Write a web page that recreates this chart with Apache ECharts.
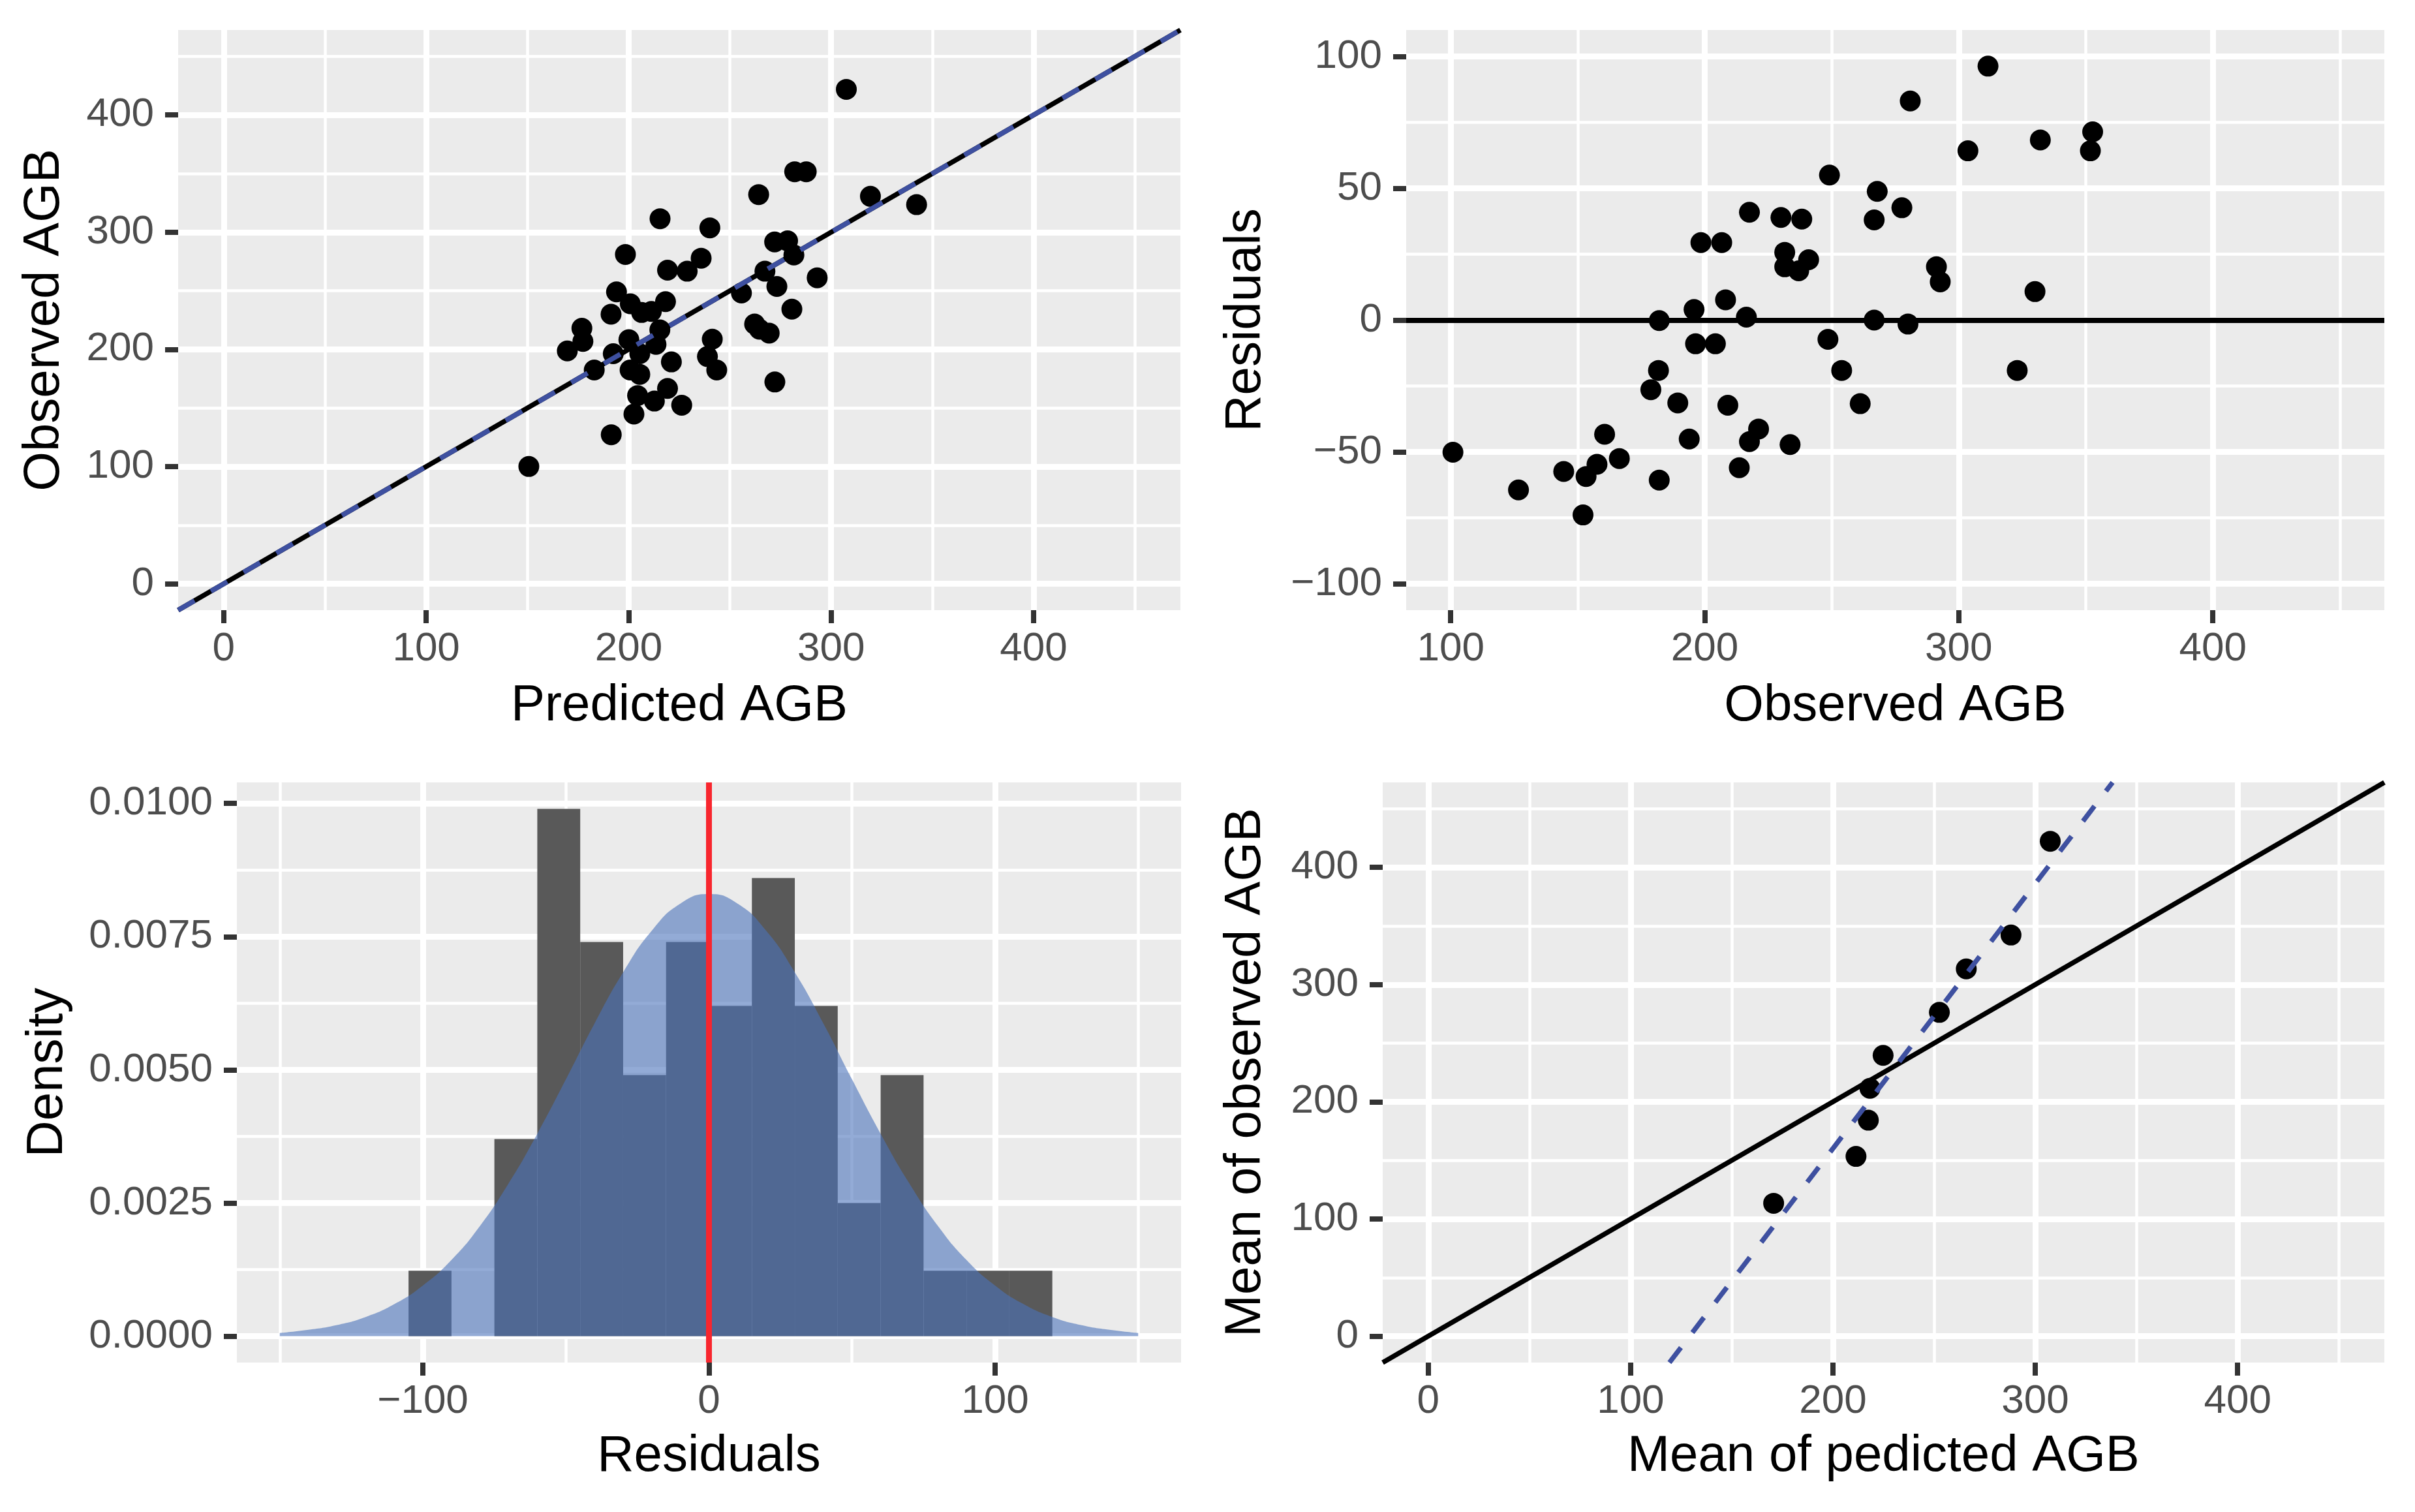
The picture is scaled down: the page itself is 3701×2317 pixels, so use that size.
<!DOCTYPE html>
<html>
<head>
<meta charset="utf-8">
<title>AGB model diagnostics</title>
<script src="https://cdn.jsdelivr.net/npm/echarts@6.0.0/dist/echarts.min.js"></script>
<style>
  html, body { margin: 0; padding: 0; background: #ffffff; }
  #main { width: 3701px; height: 2317px; }
</style>
</head>
<body>
<div id="main"></div>
<script>
// panel 1: predicted vs observed
var p1Pred = [307.5, 282, 287.7, 342.2, 150.7, 264.2, 319.4, 215.5, 240.1, 198.4,
  272.1, 278.5, 281.6, 235.8, 219.2, 228.9, 267.3, 293.1, 273.2, 255.7,
  194, 200.8, 206.4, 211.2, 218.2, 191.3, 280.6, 262.2, 264.6, 269.4,
  176.9, 177.4, 169.7, 215.4, 213.5, 200.1, 205.5, 192.4, 183, 200.7,
  205.5, 221.1, 241.3, 238.9, 243.5, 272.2, 204.4, 212.7, 219.2, 226.2,
  202.6, 191.4];
var p1Obs = [421.9, 351.6, 351.6, 323.5, 100.1, 332.1, 330.6, 311.5, 303.7, 281,
  291.7, 292.6, 280.6, 277.8, 267.6, 266.7, 266.7, 261.1, 253.7, 248.1,
  249.1, 238.9, 231.5, 232.4, 240.7, 230, 234.3, 221.6, 217.2, 213.9,
  218, 206.8, 198.7, 216.7, 204.3, 208.3, 196.3, 196.3, 182.4, 182.4,
  178.7, 189.3, 208.7, 193.9, 182.4, 172.2, 160.6, 155.9, 166.7, 152.4,
  144.8, 127.2];
var p1LineX = [-22.5, 472.5];
var p1LineY = [-22.5, 472.5];
var p1FitX = [-22.5, 472.5];
var p1FitY = [-22.5, 472.5];

// panel 2: observed vs residuals
var p2Obs = [311.5, 280.9, 352.7, 332.1, 303.6, 351.8, 249.1, 267.9, 277.6, 217.6,
  230, 238.2, 266.7, 198.5, 206.7, 231.5, 240.9, 231.5, 237, 291.2,
  292.7, 208.2, 195.8, 330, 182.1, 216.4, 266.7, 280, 196.4, 204.2,
  248.5, 181.8, 253.9, 323, 178.8, 189.4, 209.1, 261.2, 160.6, 193.9,
  221.2, 217.6, 233.6, 100.9, 166.4, 157.6, 144.5, 153.3, 182.1, 213.6,
  126.7, 152.1];
var p2Resid = [96.3, 83.1, 71.4, 68.3, 64.2, 64.2, 55, 48.8, 42.6, 40.9,
  38.9, 38.3, 38, 29.4, 29.4, 25.7, 22.9, 20.2, 18.7, 20.2,
  14.5, 7.7, 4, 10.8, -0.2, 1.1, 0, -1.5, -9, -9,
  -7.3, -19.1, -19.1, -19.1, -26.4, -31.4, -32.3, -31.7, -43.3, -45.1,
  -41.3, -46.1, -47.2, -50.1, -52.5, -54.7, -57.4, -59.3, -60.7, -56,
  -64.4, -73.9];

// panel 3: histogram of residuals + normal curve
var histLeft = [-105, -90, -75, -60, -45, -30, -15, 0, 15, 30, 45, 60, 75, 90, 105];
var histDensity = [0.00123, 0, 0.0037, 0.0099, 0.0074, 0.0049, 0.0074, 0.0062,
  0.0086, 0.0062, 0.0025, 0.0049, 0.00123, 0.00123, 0.00123];
var binWidth = 15;
var curveX = [-150, -140, -130, -120, -110, -100, -90, -80, -70, -60, -50, -40, -30, -20, -10,
  0, 10, 20, 30, 40, 50, 60, 70, 80, 90, 100, 110, 120, 130, 140, 150];
var curveY = [0.00006, 0.00012, 0.00021, 0.00036, 0.0006, 0.00095, 0.00143, 0.00207, 0.00287,
  0.0038, 0.00482, 0.00587, 0.00683, 0.00761, 0.00812, 0.0083, 0.00812, 0.00761, 0.00683,
  0.00587, 0.00482, 0.0038, 0.00287, 0.00207, 0.00143, 0.00095, 0.0006, 0.00036, 0.00021,
  0.00012, 0.00006];

// panel 4: means
var p4Pred = [170.7, 211.4, 217.5, 218.3, 224.8, 252.6, 265.9, 288, 307.4];
var p4Obs = [113.4, 153.4, 184.3, 211.5, 239.6, 276.3, 313.4, 342.3, 422.3];
var p4LineX = [-22.5, 472.5];
var p4LineY = [-22.5, 472.5];
var p4FitX = [119.2, 338.2];
var p4FitY = [-22.5, 472.5];

// ticks
var agbMajor = [0, 100, 200, 300, 400];
var agbMinor = [50, 150, 250, 350, 450];
var obsMajor = [100, 200, 300, 400];
var obsMinor = [150, 250, 350, 450];
var residMajor = [-100, -50, 0, 50, 100];
var residMinor = [-75, -25, 25, 75];
var histXMajor = [-100, 0, 100];
var histXMinor = [-150, -50, 50, 150];
var densMajor = [0, 0.0025, 0.005, 0.0075, 0.01];
var densMinor = [0.00125, 0.00375, 0.00625, 0.00875];

var FONT = '"Liberation Sans", Arial, Helvetica, sans-serif';

function pairs(xs, ys) {
  return xs.map(function (x, i) { return [x, ys[i]]; });
}

function minusSign(v) {
  return String(v).replace('-', '\u2212');
}

function majorAxis(dim, grid, min, max, ticks, name, gap, fmt) {
  var ax = {
    type: 'value', gridIndex: grid, min: min, max: max,
    position: dim === 'x' ? 'bottom' : 'left',
    name: name, nameLocation: 'middle', nameGap: gap, nameMoveOverlap: false,
    nameTextStyle: { fontFamily: FONT, fontSize: 78, color: '#000000', align: 'center', verticalAlign: 'middle' },
    axisLine: { show: false, onZero: false },
    axisTick: { show: true, customValues: ticks, length: 20, lineStyle: { color: '#333333', width: 8 } },
    axisLabel: {
      show: true, customValues: ticks, fontFamily: FONT, fontSize: 62, color: '#4D4D4D',
      margin: dim === 'x' ? 60 : 37, formatter: fmt || minusSign
    },
    splitLine: { show: true, lineStyle: { color: '#ffffff', width: 9 } }
  };
  if (dim === 'x') ax.axisLabel.verticalAlign = 'middle';
  return ax;
}

function minorAxis(dim, grid, min, max, ticks) {
  return {
    type: 'value', gridIndex: grid, min: min, max: max,
    position: dim === 'x' ? 'bottom' : 'left',
    axisLine: { show: false, onZero: false },
    axisTick: { show: false, customValues: ticks },
    axisLabel: { show: false, customValues: ticks },
    splitLine: { show: true, lineStyle: { color: '#ffffff', width: 4.5 } }
  };
}

var gridBase = { show: true, backgroundColor: '#EBEBEB', borderWidth: 0, containLabel: false, outerBoundsMode: 'none' };
var grids = [
  Object.assign({ left: 273, top: 46, width: 1536, height: 889 }, gridBase),
  Object.assign({ left: 2155, top: 46, width: 1499, height: 889 }, gridBase),
  Object.assign({ left: 363, top: 1199, width: 1447, height: 889 }, gridBase),
  Object.assign({ left: 2119, top: 1199, width: 1535, height: 889 }, gridBase)
];

var xAxes = [
  majorAxis('x', 0, -22.5, 472.5, agbMajor, 'Predicted AGB', 147),
  minorAxis('x', 0, -22.5, 472.5, agbMinor),
  majorAxis('x', 1, 82.5, 467.5, obsMajor, 'Observed AGB', 147),
  minorAxis('x', 1, 82.5, 467.5, obsMinor),
  majorAxis('x', 2, -165, 165, histXMajor, 'Residuals', 144),
  minorAxis('x', 2, -165, 165, histXMinor),
  majorAxis('x', 3, -22.5, 472.5, agbMajor, 'Mean of pedicted AGB', 144),
  minorAxis('x', 3, -22.5, 472.5, agbMinor)
];
var yAxes = [
  majorAxis('y', 0, -22.5, 472.5, agbMajor, 'Observed AGB', 205),
  minorAxis('y', 0, -22.5, 472.5, agbMinor),
  majorAxis('y', 1, -110, 110, residMajor, 'Residuals', 246),
  minorAxis('y', 1, -110, 110, residMinor),
  majorAxis('y', 2, -0.000495, 0.010395, densMajor, 'Density', 290, function (v) { return v.toFixed(4); }),
  minorAxis('y', 2, -0.000495, 0.010395, densMinor),
  majorAxis('y', 3, -22.5, 472.5, agbMajor, 'Mean of observed AGB', 210),
  minorAxis('y', 3, -22.5, 472.5, agbMinor)
];

var histData = histLeft.map(function (l, i) { return [l, l + binWidth, histDensity[i]]; });

var pointStyle = { color: '#000000', opacity: 1 };
var blackLine = { color: '#000000', width: 7.5, type: 'solid' };
var blueDash = { color: '#3E50A0', width: 7.5, type: [29, 29] };

var series = [
  // panel 1
  { type: 'scatter', xAxisIndex: 0, yAxisIndex: 0, symbolSize: 32, itemStyle: pointStyle, data: pairs(p1Pred, p1Obs), z: 2 },
  { type: 'line', xAxisIndex: 0, yAxisIndex: 0, symbol: 'none', lineStyle: blackLine, data: pairs(p1LineX, p1LineY), z: 3 },
  { type: 'line', xAxisIndex: 0, yAxisIndex: 0, symbol: 'none', lineStyle: blueDash, data: pairs(p1FitX, p1FitY), z: 4 },
  // panel 2
  {
    type: 'scatter', xAxisIndex: 2, yAxisIndex: 2, symbolSize: 32, itemStyle: pointStyle, data: pairs(p2Obs, p2Resid), z: 2,
    markLine: {
      silent: true, symbol: ['none', 'none'], label: { show: false },
      lineStyle: { color: '#000000', width: 8, type: 'solid' },
      data: [{ yAxis: 0 }]
    }
  },
  // panel 3
  {
    type: 'custom', xAxisIndex: 4, yAxisIndex: 4, data: histData, encode: { x: [0, 1], y: 2 }, z: 2,
    renderItem: function (params, api) {
      var a = api.coord([api.value(0), api.value(2)]);
      var b = api.coord([api.value(1), 0]);
      return { type: 'rect', shape: { x: a[0], y: a[1], width: b[0] - a[0], height: b[1] - a[1] }, style: { fill: '#595959' } };
    }
  },
  {
    type: 'line', xAxisIndex: 4, yAxisIndex: 4, symbol: 'none', smooth: true, z: 3,
    lineStyle: { width: 0 }, areaStyle: { color: 'rgba(75, 115, 186, 0.6)', opacity: 1 },
    data: pairs(curveX, curveY),
    markLine: {
      silent: true, symbol: ['none', 'none'], label: { show: false },
      lineStyle: { color: '#F8262E', width: 9, type: 'solid' },
      data: [{ xAxis: 0 }]
    }
  },
  // panel 4
  { type: 'scatter', xAxisIndex: 6, yAxisIndex: 6, symbolSize: 32, itemStyle: pointStyle, data: pairs(p4Pred, p4Obs), z: 2 },
  { type: 'line', xAxisIndex: 6, yAxisIndex: 6, symbol: 'none', lineStyle: blackLine, data: pairs(p4LineX, p4LineY), z: 3 },
  { type: 'line', xAxisIndex: 6, yAxisIndex: 6, symbol: 'none', lineStyle: blueDash, data: pairs(p4FitX, p4FitY), z: 4 }
];

var chart = echarts.init(document.getElementById('main'), null, { renderer: 'canvas' });
chart.setOption({
  animation: false,
  backgroundColor: '#ffffff',
  textStyle: { fontFamily: FONT },
  grid: grids,
  xAxis: xAxes,
  yAxis: yAxes,
  series: series
});
</script>
</body>
</html>
